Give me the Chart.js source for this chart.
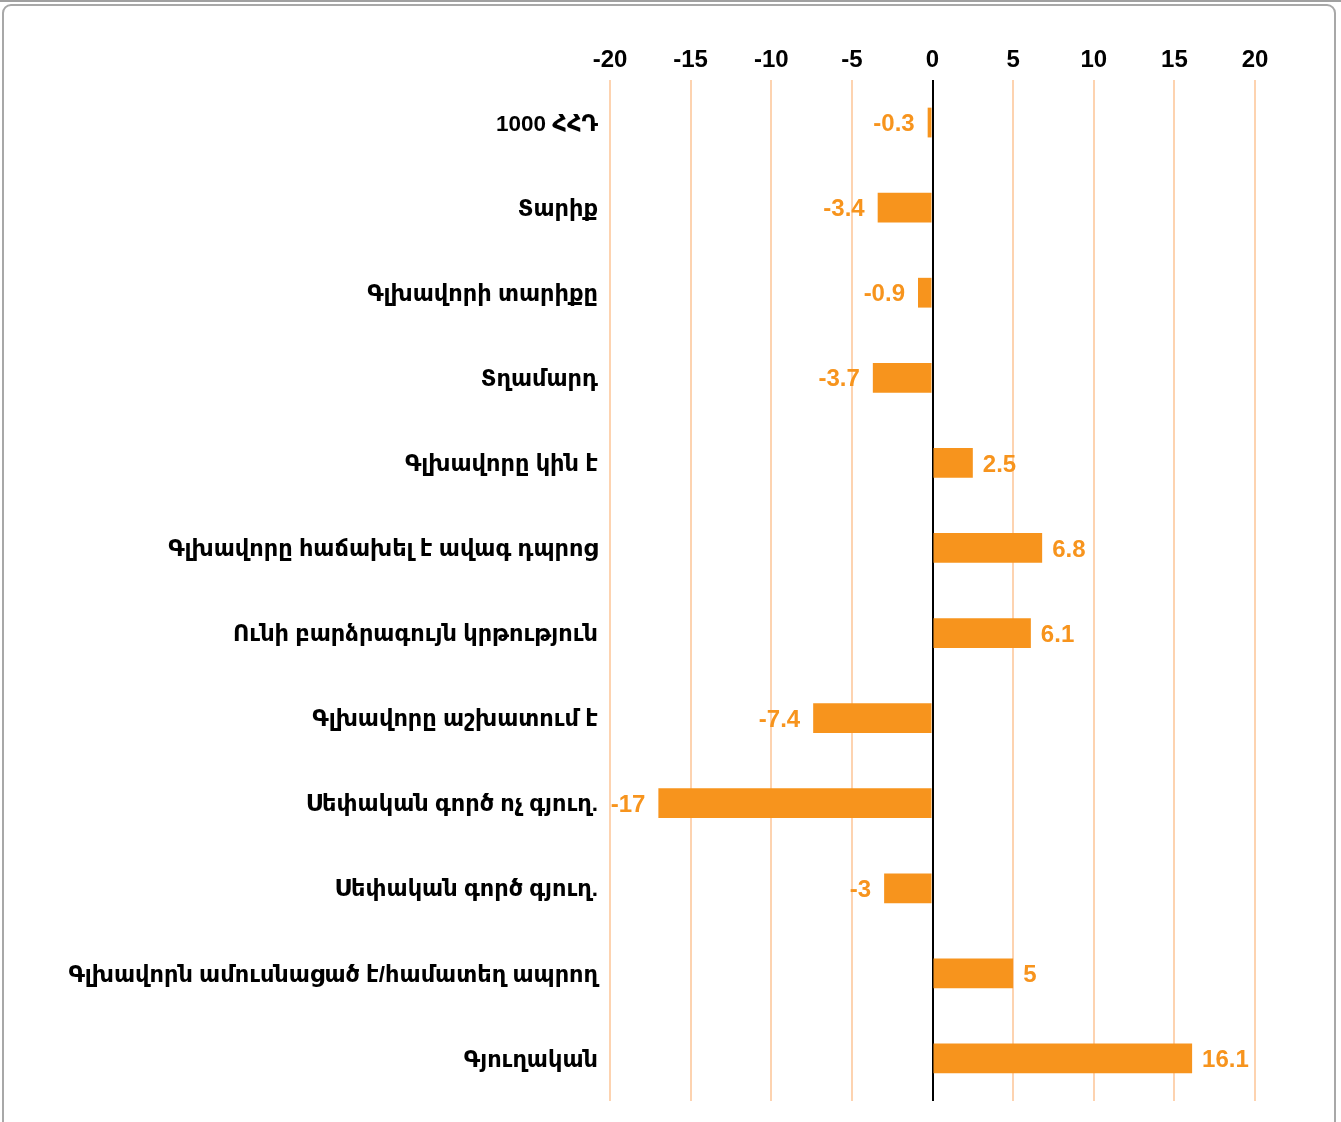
<!DOCTYPE html>
<html>
<head>
<meta charset="utf-8">
<script src="https://cdn.jsdelivr.net/npm/chart.js@4.4.0/dist/chart.umd.min.js"></script>
<style>
    html, body { margin: 0; padding: 0; background: #fff; }
    body { width: 1341px; height: 1122px; position: relative; overflow: hidden; }
    .top-rule { position: absolute; left: 0; top: 0; width: 1341px; height: 2px; background: #a0a0a0; }
    .card {
        position: absolute; left: 2px; top: 4px; width: 1334px; height: 1140px;
        border: 2px solid #a8a8a8; border-radius: 9px; box-sizing: border-box;
    }
    #chartBox { position: absolute; left: 0; top: 0; width: 1341px; height: 1122px; }
</style>
</head>
<body>
<div class="top-rule"></div>
<div class="card"></div>
<div id="chartBox"><canvas id="barChart"></canvas></div>

<script>
// ================================
// Data
// ================================
const categories = [
    "1000 ՀՀԴ",
    "Տարիք",
    "Գլխավորի տարիքը",
    "Տղամարդ",
    "Գլխավորը կին է",
    "Գլխավորը հաճախել է ավագ դպրոց",
    "Ունի բարձրագույն կրթություն",
    "Գլխավորը աշխատում է",
    "Սեփական գործ ոչ գյուղ.",
    "Սեփական գործ գյուղ.",
    "Գլխավորն ամուսնացած է/համատեղ ապրող",
    "Գյուղական"
];
const values = [-0.3, -3.4, -0.9, -3.7, 2.5, 6.8, 6.1, -7.4, -17, -3, 5, 16.1];
const axisMin = -20;
const axisMax = 20;
const axisStep = 5;

const ORANGE = "#f7941d";
const GRID = "#fdd3b0";
const FONT = "'Liberation Sans', Arial, 'DejaVu Sans', sans-serif";

// ================================
// Value labels next to bar ends
// ================================
const valueLabels = {
    id: "valueLabels",
    afterDatasetsDraw(chart) {
        const ctx = chart.ctx;
        const meta = chart.getDatasetMeta(0);
        ctx.save();
        ctx.font = "bold 24px " + FONT;
        ctx.fillStyle = ORANGE;
        ctx.textBaseline = "middle";
        meta.data.forEach((bar, i) => {
            const v = values[i];
            if (v < 0) {
                ctx.textAlign = "right";
                ctx.fillText(String(v), bar.x - 13, bar.y + 2);
            } else {
                ctx.textAlign = "left";
                ctx.fillText(String(v), bar.x + 10, bar.y + 2);
            }
        });
        ctx.restore();
    }
};

// ================================
// Chart
// ================================
new Chart(document.getElementById("barChart"), {
    type: "bar",
    data: {
        labels: categories,
        datasets: [{
            data: values,
            backgroundColor: ORANGE,
            borderWidth: 0,
            barPercentage: 0.35,
            categoryPercentage: 1
        }]
    },
    options: {
        indexAxis: "y",
        responsive: true,
        maintainAspectRatio: false,
        animation: false,
        layout: { padding: { top: 0, right: 86, bottom: 21, left: 0 } },
        plugins: {
            legend: { display: false },
            tooltip: { enabled: false }
        },
        scales: {
            x: {
                position: "top",
                min: axisMin,
                max: axisMax,
                border: { display: false },
                grid: {
                    drawTicks: false,
                    lineWidth: 2,
                    color: (c) => (c.tick && c.tick.value === 0 ? "#000" : GRID)
                },
                ticks: {
                    stepSize: axisStep,
                    padding: 5,
                    color: "#000",
                    font: { family: FONT, size: 24, weight: "bold" }
                },
                afterFit(scale) { scale.height = 80; }
            },
            y: {
                border: { display: false },
                grid: { display: false, drawTicks: false },
                ticks: {
                    padding: 12,
                    labelOffset: 2,
                    color: "#000",
                    font: { family: FONT, size: 22.5, weight: "bold" }
                },
                afterFit(scale) {
                    scale.width = 610;
                    // labels sit inside their rows, no extra room needed above/below
                    scale.paddingTop = 0;
                    scale.paddingBottom = 0;
                }
            }
        }
    },
    plugins: [valueLabels]
});
</script>
</body>
</html>
